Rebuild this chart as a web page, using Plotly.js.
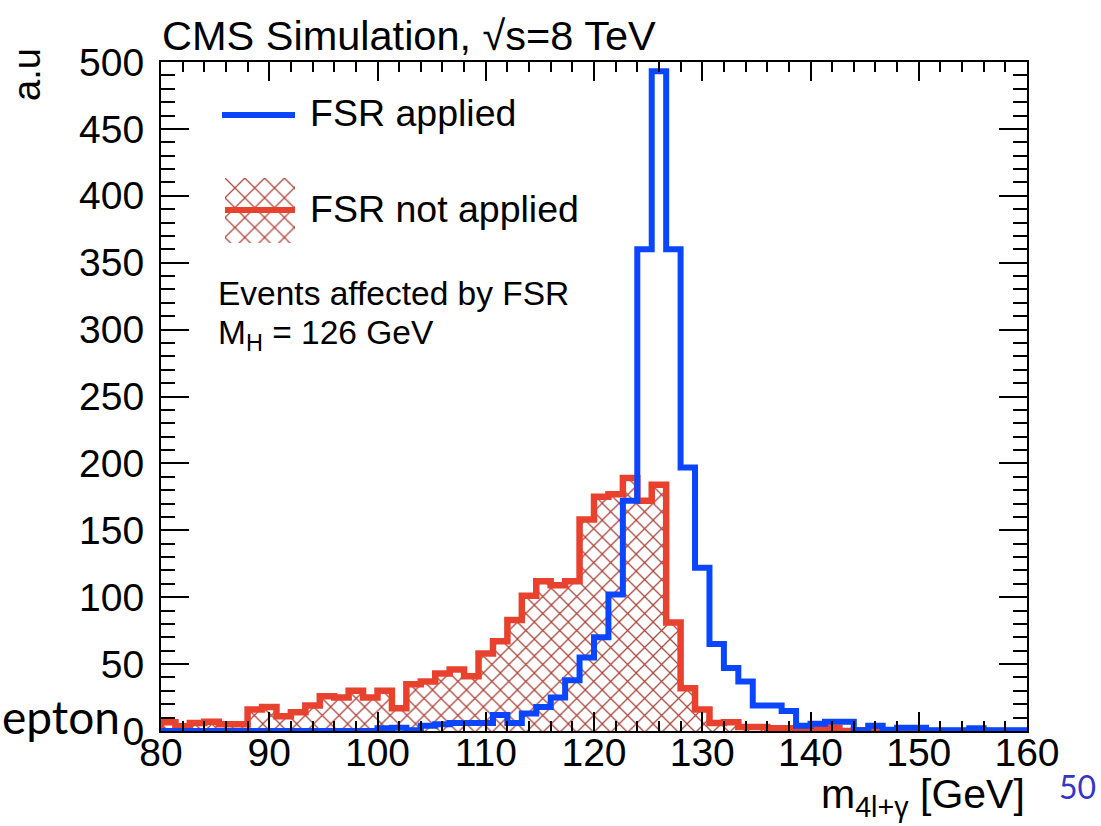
<!DOCTYPE html>
<html><head><meta charset="utf-8">
<script src="https://cdn.plot.ly/plotly-3.0.1.min.js"></script>
<style>html,body{margin:0;padding:0;background:#fff;}#chart{width:1101px;height:826px;}</style>
</head><body><div id="chart"></div>
<script>
// Histogram binning (60 bins from 80 to 160 GeV)
const binLow = 80;
const binHigh = 160;
const nBins = 60;

// FSR applied (blue), per bin
const fsrApplied = [
  0, 0, 0, 0, 0, 0, 0, 0, 0, 0,
  0, 0, 0, 0, 0, 2, 2.5, 0.5, 4, 5,
  6, 6, 6, 12, 6, 13, 18, 25, 38, 55,
  70, 102, 172, 360, 493, 360, 197, 122, 65, 47,
  37, 19, 19, 15, 4, 5.5, 7, 7, 0.5, 4,
  1, 2.5, 2.5, 0.5, 0.5, 0.5, 2, 0.5, 0.5, 0.5
];
// FSR not applied (red, hatched), per bin
const fsrNotApplied = [
  6.5, 3.5, 6, 7, 5, 5, 16, 18, 11, 14,
  19, 26, 25, 30, 25, 30, 17, 35, 37, 43,
  46, 41, 58, 67, 83, 101, 112, 109, 112, 158,
  175, 177, 189, 172, 184, 81, 32, 16, 6, 6.5,
  3, 3, 2, 2, 0.5, 2, 2.5, 0, 0.5, 0,
  0.5, 0.5, 0, 0, 0, 0, 0.5, 0, 0, 0
];
const xTickVals = [80, 90, 100, 110, 120, 130, 140, 150, 160];
const yTickVals = [0, 50, 100, 150, 200, 250, 300, 350, 400, 450, 500];

const binWidth = (binHigh - binLow) / nBins;
const edges = Array.from({length: nBins + 1}, (_, i) => binLow + i * binWidth);
function stepX() { return [edges[0]].concat(edges.slice(0, nBins), [edges[nBins], edges[nBins]]); }
function stepY(v) { return [0].concat(v, [v[v.length - 1], 0]); }

const FONT = 'Liberation Sans, Arial, Helvetica, sans-serif';
const RED = '#e8412e';
const HATCH = '#a9463d';
const BLUE = '#0a46ff';

// plot area in pixels: x 161..1027, y 62..731
const PX0 = 161, PW = 866, PY1 = 731, PH = 669;
const px = p => (p - PX0) / PW;
const py = p => (PY1 - p) / PH;

const HATCH_PATTERN = {shape: 'x', fgcolor: HATCH, bgcolor: 'rgba(255,255,255,0)', size: 12, solidity: 0.2};

const traces = [
  {
    type: 'scatter', mode: 'lines', x: stepX(), y: stepY(fsrNotApplied),
    line: {shape: 'hv', color: RED, width: 6.5},
    fill: 'tozeroy', fillcolor: 'rgba(255,255,255,0)',
    fillpattern: HATCH_PATTERN,
    showlegend: false, hoverinfo: 'skip'
  },
  {
    type: 'scatter', mode: 'lines', x: stepX(), y: stepY(fsrApplied),
    line: {shape: 'hv', color: BLUE, width: 6},
    showlegend: false, hoverinfo: 'skip'
  },
  // legend key: hatched box
  {
    type: 'scatter', mode: 'lines', x: [0, 1, 1, 0, 0], y: [0, 0, 1, 1, 0],
    xaxis: 'x2', yaxis: 'y2', fill: 'toself', line: {width: 0, color: 'rgba(0,0,0,0)'},
    fillcolor: 'rgba(255,255,255,0)',
    fillpattern: {shape: 'x', fgcolor: HATCH, bgcolor: 'rgba(255,255,255,0)', size: 14, solidity: 0.17},
    showlegend: false, hoverinfo: 'skip'
  }
];

const layout = {
  width: 1101, height: 826,
  margin: {l: PX0, r: 1101 - 1027, t: 62, b: 826 - PY1, pad: 0},
  paper_bgcolor: 'white', plot_bgcolor: 'white',
  showlegend: false,
  font: {family: FONT, size: 39, color: 'black'},
  xaxis: {
    range: [binLow, binHigh], tickvals: xTickVals, ticktext: xTickVals.map(String),
    ticks: 'inside', ticklen: 19, tickwidth: 2, tickcolor: 'black',
    mirror: 'allticks', showline: true, linewidth: 2, linecolor: 'black',
    showgrid: false, zeroline: false, ticklabelstandoff: -14,
    minor: {dtick: 2, ticks: 'inside', ticklen: 10, tickwidth: 2, tickcolor: 'black', showgrid: false},
    tickfont: {family: FONT, size: 39, color: 'black'}
  },
  yaxis: {
    range: [0, 500], tickvals: yTickVals, ticktext: yTickVals.map(String),
    ticks: 'inside', ticklen: 28, tickwidth: 2, tickcolor: 'black',
    mirror: 'allticks', showline: true, linewidth: 2, linecolor: 'black',
    showgrid: false, zeroline: false, ticklabelstandoff: 7,
    minor: {dtick: 10, ticks: 'inside', ticklen: 14, tickwidth: 2, tickcolor: 'black', showgrid: false},
    tickfont: {family: FONT, size: 39, color: 'black'}
  },
  xaxis2: {domain: [px(225), px(295)], range: [0, 1], visible: false, fixedrange: true, anchor: 'y2'},
  yaxis2: {domain: [py(243), py(178)], range: [0, 1], visible: false, fixedrange: true, anchor: 'x2'},
  shapes: [
    {type: 'line', xref: 'paper', yref: 'paper', x0: px(222), x1: px(295), y0: py(115), y1: py(115), line: {color: BLUE, width: 6}},
    {type: 'line', xref: 'paper', yref: 'paper', x0: px(225), x1: px(295), y0: py(210), y1: py(210), line: {color: RED, width: 6}}
  ],
  annotations: [
    {text: 'CMS Simulation, √s=8 TeV', xref: 'paper', yref: 'paper', x: px(160), y: py(35), xanchor: 'left', yanchor: 'middle', showarrow: false, font: {family: FONT, size: 41.5, color: 'black'}},
    {text: 'a.u', xref: 'paper', yref: 'paper', x: px(27), y: py(75), xanchor: 'center', yanchor: 'middle', textangle: -90, showarrow: false, font: {family: FONT, size: 38, color: 'black'}},
    {text: 'm<sub>4l+γ</sub> [GeV]', xref: 'paper', yref: 'paper', x: px(1027), y: py(825), xanchor: 'right', yanchor: 'bottom', showarrow: false, font: {family: FONT, size: 41, color: 'black'}},
    {text: 'FSR applied', xref: 'paper', yref: 'paper', x: px(308), y: py(113), xanchor: 'left', yanchor: 'middle', showarrow: false, font: {family: FONT, size: 37.5, color: 'black'}},
    {text: 'FSR not applied', xref: 'paper', yref: 'paper', x: px(308), y: py(209), xanchor: 'left', yanchor: 'middle', showarrow: false, font: {family: FONT, size: 37.5, color: 'black'}},
    {text: 'Events affected by FSR', xref: 'paper', yref: 'paper', x: px(216), y: py(293), xanchor: 'left', yanchor: 'middle', showarrow: false, font: {family: FONT, size: 33.5, color: 'black'}},
    {text: 'M<sub>H</sub> = 126 GeV', xref: 'paper', yref: 'paper', x: px(216), y: py(335), xanchor: 'left', yanchor: 'middle', showarrow: false, font: {family: FONT, size: 33.5, color: 'black'}},
    {text: 'epton', xref: 'paper', yref: 'paper', x: px(0), y: py(716), xanchor: 'left', yanchor: 'middle', showarrow: false, font: {family: 'Lato, Open Sans, sans-serif', size: 46, color: 'black'}},
    {text: '50', xref: 'paper', yref: 'paper', x: px(1077), y: py(786), xanchor: 'center', yanchor: 'middle', showarrow: false, font: {family: 'Lato, Open Sans, sans-serif', size: 32, color: '#3535c8'}}
  ]
};

Plotly.newPlot('chart', traces, layout, {staticPlot: true, displayModeBar: false});
</script>
</body></html>
